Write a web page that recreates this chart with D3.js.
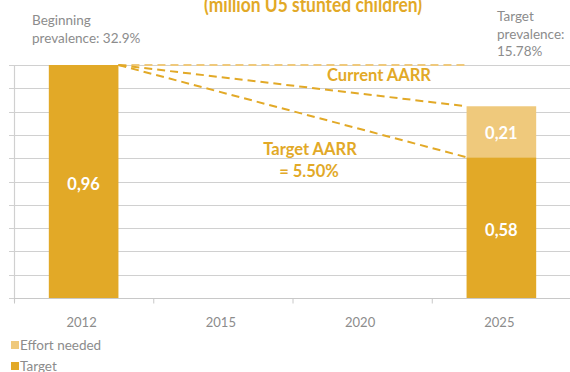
<!DOCTYPE html>
<html><head><meta charset="utf-8">
<script src="https://cdn.jsdelivr.net/npm/d3@7"></script>
<style>html,body{margin:0;padding:0;background:#fff;}svg{display:block;}</style>
</head><body>
<svg id="c" width="570" height="372"></svg>
<script>
const categories = ["2012", "2015", "2020", "2025"];
const barYears = ["2012", "2025"];
const targetValues = [0.96, 0.58];
const effortValues = [0, 0.21];
const yMax = 0.96;
const startValue = 0.96;
const currentAARREnd = 0.79;
const targetAARREnd = 0.58;
const legendLabels = ["Effort needed", "Target"];

const cTarget = "#E2A927", cEffort = "#EFC97C", cText = "#8C8C8C", cGrid = "#D0D0D0";
const font = "Lato, 'Open Sans', sans-serif";
const svg = d3.select("#c");

const x = d3.scaleBand().domain(categories).range([14, 571]);
const y = d3.scaleLinear().domain([0, yMax]).range([298, 65]);
const barW = x.bandwidth() * 0.5;
const bx = d => x(d) + x.bandwidth() / 2 - barW / 2;

// gridlines
const gridVals = d3.range(11).map(i => yMax * i / 10);
svg.append("g").selectAll("line").data(gridVals).join("line")
  .attr("x1", 9).attr("x2", 570)
  .attr("y1", d => Math.round(y(d)) + 0.5).attr("y2", d => Math.round(y(d)) + 0.5)
  .attr("stroke", cGrid).attr("stroke-width", 1.2);
// y axis line
svg.append("line").attr("x1", 14.5).attr("x2", 14.5).attr("y1", y(yMax)).attr("y2", 302)
  .attr("stroke", cGrid).attr("stroke-width", 1.2);

// x axis
const xa = svg.append("g").attr("transform", "translate(0,298.5)");
xa.append("line").attr("x1", 14).attr("x2", 570).attr("stroke", "#C8C8C8").attr("stroke-width", 1.2);
xa.selectAll("line.t").data(categories).join("line").attr("class", "t")
  .attr("x1", d => x(d) + 0.5).attr("x2", d => x(d) + 0.5).attr("y1", 0).attr("y2", 5)
  .attr("stroke", "#C8C8C8");
xa.selectAll("text").data(categories).join("text")
  .attr("x", d => x(d) + x.bandwidth() / 2 - 2).attr("y", 28)
  .attr("text-anchor", "middle").attr("fill", cText)
  .style("font", "13px " + font).text(d => d);

// bars
const bars = barYears.map((yr, i) => ({yr, t: targetValues[i], e: effortValues[i]}));
svg.append("g").selectAll("rect.t").data(bars).join("rect")
  .attr("x", d => bx(d.yr)).attr("width", barW)
  .attr("y", d => y(d.t)).attr("height", d => y(0) - y(d.t)).attr("fill", cTarget);
svg.append("g").selectAll("rect.e").data(bars.filter(d => d.e > 0)).join("rect")
  .attr("x", d => bx(d.yr)).attr("width", barW)
  .attr("y", d => y(d.t + d.e)).attr("height", d => y(d.t) - y(d.t + d.e)).attr("fill", cEffort);

// bar labels
const lbl = (xx, yy, t) => svg.append("text").attr("x", xx).attr("y", yy)
  .attr("text-anchor", "middle").attr("dominant-baseline", "central")
  .attr("fill", "#fff").style("font", "bold 16.5px " + font).text(t);
const fmt = v => v.toFixed(2).replace(".", ",");
bars.forEach(d => {
  const cx = bx(d.yr) + barW / 2;
  lbl(cx, (y(0) + y(d.t)) / 2 + 2, fmt(d.t));
  if (d.e > 0) lbl(cx, (y(d.t) + y(d.t + d.e)) / 2 + 1, fmt(d.e));
});

// dashed lines
const x0 = bx("2012") + barW, x1 = bx("2025");
const dl = (v, col) => svg.append("line").attr("x1", x0).attr("y1", y(startValue))
  .attr("x2", x1).attr("y2", y(v)).attr("stroke", col).attr("stroke-width", 2)
  .attr("stroke-dasharray", "8,5");
dl(startValue, cEffort);
dl(currentAARREnd, cTarget);
dl(targetAARREnd, cTarget);

// annotations
const ann = (xx, yy, t) => svg.append("text").attr("x", xx).attr("y", yy)
  .attr("text-anchor", "middle").attr("dominant-baseline", "central")
  .attr("fill", cTarget).style("font", "bold 16.5px " + font).text(t);
ann(379, 75, "Current AARR");
ann(310, 149, "Target AARR");
ann(309, 171, "= 5.50%");

// title (clipped at top)
svg.append("text").attr("x", 313).attr("y", 12).attr("text-anchor", "middle")
  .attr("fill", cTarget).style("font", "bold 21px " + font)
  .attr("textLength", 218).attr("lengthAdjust", "spacingAndGlyphs")
  .text("(million U5 stunted children)");

// prevalence notes
const note = (xx, lines, y0) => lines.forEach((t, i) => svg.append("text")
  .attr("x", xx).attr("y", y0 + i * 17.5).attr("fill", cText)
  .style("font", "13.5px " + font).text(t));
note(32, ["Beginning", "prevalence: 32.9%"], 25);
note(497, ["Target", "prevalence:", "15.78%"], 21);

// legend
const lg = svg.append("g");
legendLabels.forEach((t, i) => {
  const yy = 345 + i * 21;
  lg.append("rect").attr("x", 11).attr("y", yy - 4).attr("width", 8).attr("height", 8)
    .attr("fill", i === 0 ? cEffort : cTarget);
  lg.append("text").attr("x", 20).attr("y", yy).attr("dominant-baseline", "central")
    .attr("fill", cText).style("font", "13.5px " + font).text(t);
});
</script>
</body></html>
